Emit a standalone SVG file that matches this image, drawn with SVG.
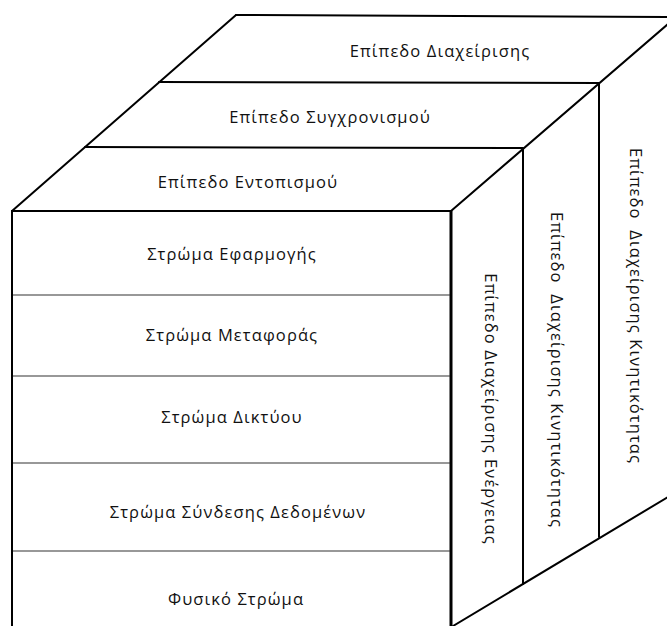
<svg xmlns="http://www.w3.org/2000/svg" width="667" height="626" viewBox="0 0 667 626">
<style>
.edge{stroke:#000;stroke-width:2;fill:none;stroke-linecap:round}
.div{stroke:#333;stroke-width:1.2;fill:none}
.t{font-family:"Open Sans","Noto Sans",sans-serif;font-size:16.5px;letter-spacing:1.1px;fill:#111;text-anchor:middle;dominant-baseline:central}
</style>
<rect width="667" height="626" fill="#fff"/>
<g id="connectors">
<polyline class="edge" points="12,626 12,211 451,211"/>
<line x1="451" y1="211" x2="451" y2="626" stroke="#000" stroke-width="3"/>
<line class="edge" x1="12" y1="211" x2="236" y2="15"/>
<line class="edge" x1="236" y1="15" x2="667" y2="17"/>
<line class="edge" x1="451" y1="211" x2="668" y2="24"/>
<line class="edge" x1="159" y1="82" x2="599" y2="83"/>
<line class="edge" x1="85" y1="147" x2="523" y2="148"/>
<line class="edge" x1="599" y1="84" x2="599" y2="537"/>
<line class="edge" x1="523" y1="149" x2="523" y2="584"/>
<line class="edge" x1="453" y1="626" x2="668" y2="497"/>
<line class="div" x1="13" y1="295" x2="450" y2="295"/>
<line class="div" x1="13" y1="376" x2="450" y2="376"/>
<line class="div" x1="13" y1="463" x2="450" y2="463"/>
<line class="div" x1="13" y1="551" x2="450" y2="551"/>
</g>
<g id="top-management"><text class="t" x="440" y="50">Επίπεδο Διαχείρισης</text></g>
<g id="top-sync"><text class="t" x="330" y="116">Επίπεδο Συγχρονισμού</text></g>
<g id="top-location"><text class="t" x="248" y="181">Επίπεδο Εντοπισμού</text></g>
<g id="layer-app"><text class="t" x="232" y="253">Στρώμα Εφαρμογής</text></g>
<g id="layer-transport"><text class="t" x="232" y="334">Στρώμα Μεταφοράς</text></g>
<g id="layer-network"><text class="t" x="232" y="416">Στρώμα Δικτύου</text></g>
<g id="layer-datalink"><text class="t" x="238" y="511">Στρώμα Σύνδεσης Δεδομένων</text></g>
<g id="layer-physical"><text class="t" x="236" y="598">Φυσικό Στρώμα</text></g>
<g id="side-energy"><text class="t" transform="translate(491,409) rotate(90)">Επίπεδο Διαχείρισης Ενέργειας</text></g>
<g id="side-mobility1"><text class="t" transform="translate(557,370) rotate(90)" xml:space="preserve">Επίπεδο  Διαχείρισης Κινητικότητας</text></g>
<g id="side-mobility2"><text class="t" transform="translate(636,306) rotate(90)" xml:space="preserve">Επίπεδο  Διαχείρισης Κινητικότητας</text></g>
</svg>
